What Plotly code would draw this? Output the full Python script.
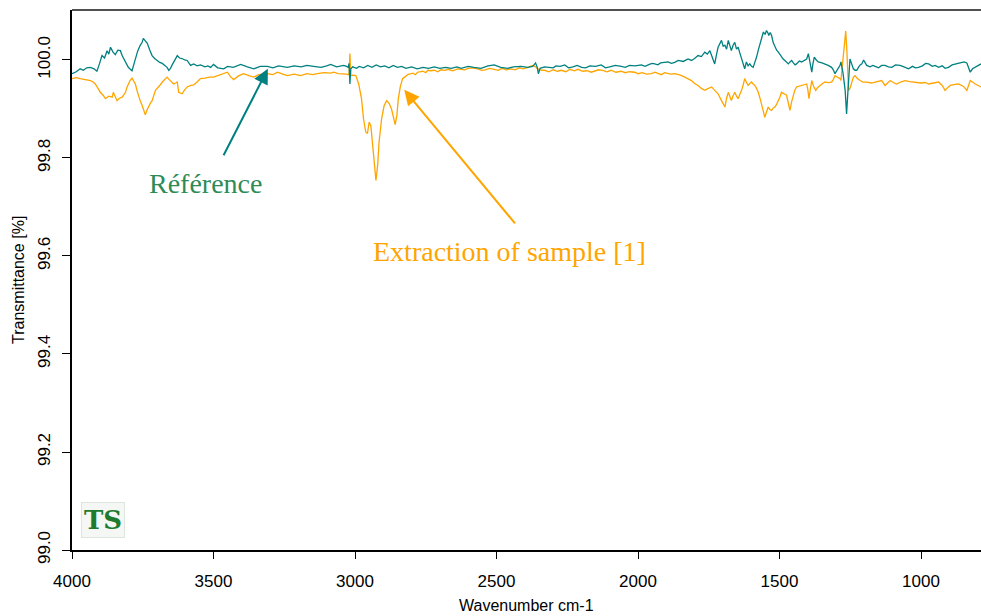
import plotly.graph_objects as go

# Référence spectrum (wavenumber cm-1, transmittance %)
ref_wn = [4000, 3985, 3971, 3960, 3948, 3935, 3922, 3912, 3903, 3894, 3885, 3876, 3870, 3864, 3855, 3847, 3838, 3829, 3822, 3818,
          3808, 3801, 3794, 3788, 3782, 3776, 3768, 3759, 3752, 3748, 3741, 3734, 3725, 3717, 3708, 3699, 3690, 3681, 3672, 3664,
          3658, 3652, 3646, 3641, 3634, 3628, 3620, 3611, 3602, 3593, 3586, 3581, 3570, 3558, 3546, 3530, 3520, 3510, 3500, 3485,
          3464, 3450, 3430, 3404, 3380, 3358, 3335, 3310, 3290, 3270, 3239, 3215, 3190, 3170, 3146, 3120, 3100, 3086, 3065, 3040,
          3030, 3024, 3021, 3018, 3015, 3008, 2995, 2985, 2970, 2955, 2940, 2925, 2910, 2895, 2880, 2865, 2850, 2835, 2820, 2800,
          2780, 2760, 2740, 2720, 2700, 2680, 2660, 2640, 2625, 2600, 2580, 2555, 2530, 2508, 2485, 2460, 2440, 2413, 2390, 2372,
          2362, 2356, 2352, 2346, 2330, 2318, 2290, 2259, 2230, 2199, 2170, 2130, 2100, 2059, 2030, 1988, 1960, 1941, 1920, 1894,
          1870, 1858, 1840, 1823, 1811, 1800, 1788, 1776, 1764, 1755, 1746, 1738, 1729, 1723, 1717, 1705, 1699, 1693, 1687, 1681,
          1675, 1670, 1664, 1658, 1652, 1646, 1640, 1634, 1628, 1623, 1617, 1611, 1605, 1599, 1593, 1587, 1581, 1575, 1569, 1563,
          1557, 1551, 1546, 1540, 1538, 1533, 1528, 1522, 1516, 1510, 1504, 1498, 1493, 1487, 1481, 1475, 1469, 1463, 1457, 1451,
          1445, 1440, 1430, 1422, 1413, 1404, 1398, 1392, 1386, 1382, 1377, 1370, 1363, 1350, 1339, 1328, 1316, 1310, 1304, 1296,
          1286, 1283, 1276, 1268, 1263, 1258, 1251, 1245, 1239, 1233, 1227, 1220, 1215, 1209, 1203, 1197, 1192, 1180, 1170, 1162,
          1150, 1139, 1127, 1115, 1103, 1090, 1074, 1060, 1044, 1030, 1020, 1009, 995, 984, 973, 960, 950, 938, 925, 915,
          903, 890, 874, 860, 848, 838, 826, 818, 808, 798, 788]
ref_t = [99.972, 99.976, 99.982, 99.979, 99.984, 99.985, 99.982, 99.977, 99.992, 100.009, 100.004, 100.019, 100.012, 100.026, 100.016, 100.011, 100.020, 100.019, 100.008, 100.003,
         99.992, 99.985, 99.981, 99.978, 99.990, 100.003, 100.018, 100.030, 100.036, 100.044, 100.040, 100.034, 100.020, 100.009, 100.003, 99.999, 99.995, 99.993, 99.988, 99.985,
         99.979, 99.983, 99.990, 99.996, 100.004, 100.009, 100.004, 100.003, 100.000, 99.999, 99.993, 99.989, 99.992, 99.988, 99.990, 99.986, 99.988, 99.985, 99.991, 99.984,
         99.982, 99.987, 99.985, 99.991, 99.986, 99.982, 99.987, 99.987, 99.984, 99.988, 99.985, 99.988, 99.986, 99.989, 99.987, 99.985, 99.988, 99.991, 99.986, 99.989,
         99.987, 99.985, 99.993, 99.951, 99.982, 99.986, 99.983, 99.987, 99.984, 99.989, 99.985, 99.990, 99.986, 99.988, 99.984, 99.989, 99.985, 99.987, 99.983, 99.986,
         99.982, 99.985, 99.983, 99.986, 99.983, 99.985, 99.983, 99.986, 99.983, 99.987, 99.985, 99.983, 99.988, 99.990, 99.985, 99.983, 99.986, 99.987, 99.985, 99.987,
         99.994, 99.985, 99.972, 99.983, 99.986, 99.985, 99.988, 99.990, 99.986, 99.985, 99.988, 99.990, 99.986, 99.987, 99.989, 99.990, 99.991, 99.992, 99.994, 99.996,
         99.995, 99.999, 99.997, 100.002, 99.999, 100.003, 100.009, 100.007, 100.016, 100.012, 100.019, 100.006, 99.992, 100.010, 100.026, 100.040, 100.028, 100.030, 100.022, 100.040,
         100.028, 100.019, 100.030, 100.036, 100.022, 100.026, 100.014, 100.002, 99.990, 99.982, 99.996, 99.988, 99.992, 99.987, 99.985, 99.995, 100.006, 100.020, 100.033, 100.045,
         100.057, 100.052, 100.060, 100.054, 100.050, 100.056, 100.050, 100.035, 100.026, 100.020, 100.016, 100.010, 100.006, 100.002, 99.999, 99.995, 99.992, 99.996, 99.999, 99.994,
         99.990, 99.992, 99.998, 99.996, 99.999, 100.002, 100.013, 99.990, 99.975, 99.992, 100.006, 100.000, 99.996, 99.994, 99.992, 99.989, 99.985, 99.980, 99.972, 99.980,
         99.989, 99.996, 99.975, 99.938, 99.890, 99.938, 100.002, 99.992, 99.982, 99.979, 99.979, 99.986, 99.990, 99.992, 100.000, 99.994, 99.989, 99.986, 99.989, 99.987,
         99.984, 99.989, 99.989, 99.986, 99.985, 99.990, 99.989, 99.986, 99.982, 99.987, 99.984, 99.985, 99.988, 99.993, 99.992, 99.987, 99.989, 99.985, 99.988, 99.983,
         99.985, 99.990, 99.992, 99.995, 99.996, 99.994, 99.975, 99.982, 99.985, 99.989, 99.992]
# extra detail points of the Référence trace (2300-1880 cm-1)
ref_wn_detail = [2300, 2275, 2245, 2215, 2185, 2150, 2115, 2080, 2045, 2010, 1975, 1950, 1930, 1907, 1882]
ref_t_detail = [99.984, 99.987, 99.984, 99.989, 99.984, 99.987, 99.984, 99.989, 99.985, 99.988, 99.987, 99.993, 99.990, 99.995, 99.993]

# Extraction of sample [1]
ext_wn = [4000, 3985, 3971, 3955, 3935, 3925, 3918, 3908, 3900, 3890, 3882, 3870, 3858, 3854, 3848, 3841, 3832, 3823, 3817, 3811,
          3806, 3801, 3795, 3788, 3782, 3776, 3770, 3764, 3758, 3752, 3746, 3741, 3735, 3729, 3723, 3717, 3711, 3705, 3699, 3693,
          3687, 3681, 3672, 3664, 3658, 3652, 3646, 3641, 3634, 3628, 3623, 3617, 3611, 3602, 3593, 3580, 3570, 3558, 3546, 3530,
          3515, 3500, 3485, 3470, 3451, 3440, 3429, 3410, 3394, 3375, 3358, 3340, 3310, 3290, 3274, 3255, 3239, 3215, 3192, 3170,
          3150, 3133, 3110, 3086, 3075, 3060, 3040, 3030, 3024, 3021, 3018, 3015, 3008, 2997, 2987, 2977, 2970, 2962, 2956, 2950,
          2944, 2938, 2932, 2926, 2920, 2915, 2906, 2897, 2888, 2879, 2871, 2864, 2858, 2852, 2847, 2840, 2832, 2820, 2814, 2795,
          2779, 2760, 2743, 2720, 2696, 2670, 2637, 2625, 2600, 2566, 2540, 2508, 2480, 2448, 2420, 2389, 2372, 2362, 2355, 2342,
          2330, 2300, 2271, 2240, 2212, 2180, 2154, 2125, 2095, 2060, 2030, 2012, 1985, 1953, 1930, 1906, 1885, 1870, 1850, 1835,
          1820, 1811, 1800, 1788, 1776, 1764, 1755, 1740, 1729, 1717, 1705, 1693, 1687, 1681, 1675, 1670, 1664, 1658, 1652, 1646,
          1640, 1634, 1628, 1623, 1617, 1611, 1605, 1599, 1593, 1587, 1581, 1575, 1569, 1563, 1557, 1552, 1546, 1540, 1534, 1528,
          1522, 1516, 1510, 1504, 1498, 1493, 1487, 1481, 1475, 1469, 1463, 1457, 1451, 1446, 1440, 1430, 1422, 1413, 1404, 1400,
          1396, 1391, 1386, 1380, 1372, 1365, 1357, 1348, 1339, 1328, 1316, 1310, 1304, 1295, 1286, 1283, 1276, 1266, 1262, 1256,
          1251, 1245, 1239, 1233, 1225, 1215, 1205, 1192, 1175, 1162, 1150, 1139, 1127, 1118, 1109, 1098, 1086, 1072, 1056, 1040,
          1021, 1000, 985, 973, 955, 938, 925, 915, 905, 897, 880, 867, 850, 838, 826, 815, 808, 798, 788]
ext_t = [99.962, 99.964, 99.962, 99.960, 99.958, 99.955, 99.951, 99.942, 99.934, 99.928, 99.921, 99.926, 99.924, 99.934, 99.925, 99.917, 99.922, 99.924, 99.929, 99.934,
         99.944, 99.951, 99.958, 99.963, 99.958, 99.951, 99.937, 99.924, 99.915, 99.907, 99.896, 99.888, 99.898, 99.907, 99.912, 99.917, 99.928, 99.938, 99.942, 99.945,
         99.950, 99.955, 99.960, 99.965, 99.961, 99.958, 99.953, 99.951, 99.953, 99.955, 99.934, 99.932, 99.931, 99.939, 99.945, 99.948, 99.949, 99.955, 99.962, 99.963,
         99.965, 99.965, 99.968, 99.970, 99.975, 99.966, 99.960, 99.968, 99.972, 99.968, 99.965, 99.970, 99.972, 99.970, 99.975, 99.971, 99.968, 99.971, 99.968, 99.972,
         99.970, 99.972, 99.974, 99.973, 99.975, 99.972, 99.972, 99.971, 99.970, 99.972, 100.013, 99.968, 99.969, 99.968, 99.951, 99.921, 99.880, 99.853, 99.850, 99.873,
         99.866, 99.832, 99.785, 99.754, 99.785, 99.832, 99.880, 99.907, 99.917, 99.911, 99.900, 99.883, 99.868, 99.887, 99.921, 99.945, 99.962, 99.967, 99.970, 99.973,
         99.975, 99.977, 99.979, 99.979, 99.980, 99.981, 99.982, 99.981, 99.983, 99.982, 99.980, 99.981, 99.983, 99.982, 99.984, 99.985, 99.989, 99.986, 99.982, 99.979,
         99.979, 99.980, 99.979, 99.981, 99.981, 99.978, 99.977, 99.979, 99.979, 99.977, 99.976, 99.975, 99.974, 99.972, 99.973, 99.974, 99.971, 99.972, 99.969, 99.965,
         99.960, 99.958, 99.952, 99.948, 99.942, 99.938, 99.941, 99.945, 99.938, 99.931, 99.917, 99.904, 99.922, 99.934, 99.925, 99.917, 99.927, 99.934, 99.926, 99.921,
         99.930, 99.938, 99.950, 99.962, 99.955, 99.948, 99.952, 99.955, 99.951, 99.948, 99.942, 99.934, 99.922, 99.911, 99.895, 99.883, 99.895, 99.904, 99.899, 99.897,
         99.902, 99.904, 99.910, 99.917, 99.925, 99.934, 99.931, 99.930, 99.928, 99.912, 99.897, 99.915, 99.928, 99.938, 99.945, 99.947, 99.948, 99.950, 99.951, 99.940,
         99.921, 99.940, 99.958, 99.947, 99.938, 99.944, 99.948, 99.952, 99.955, 99.954, 99.955, 99.960, 99.968, 99.965, 99.962, 99.958, 99.999, 100.059, 100.019, 99.938,
         99.942, 99.955, 99.965, 99.968, 99.962, 99.958, 99.955, 99.955, 99.953, 99.955, 99.957, 99.958, 99.948, 99.953, 99.958, 99.954, 99.951, 99.955, 99.958, 99.956,
         99.955, 99.953, 99.954, 99.951, 99.953, 99.955, 99.948, 99.938, 99.944, 99.948, 99.950, 99.951, 99.946, 99.938, 99.958, 99.953, 99.951, 99.948, 99.945]
# extra detail points of the Extraction trace (2790-1895 cm-1)
ext_wn_detail = [2787, 2770, 2750, 2732, 2708, 2683, 2655, 2612, 2585, 2552, 2525, 2494, 2465, 2434, 2405,
                 2315, 2285, 2255, 2225, 2195, 2165, 2140, 2110, 2078, 2045, 2000, 1970, 1940, 1918, 1895]
ext_t_detail = [99.970, 99.976, 99.974, 99.978, 99.976, 99.979, 99.978, 99.980, 99.984, 99.979, 99.983, 99.979, 99.980, 99.980, 99.982,
                99.976, 99.977, 99.976, 99.978, 99.977, 99.975, 99.980, 99.976, 99.975, 99.974, 99.972, 99.971, 99.975, 99.970, 99.972]

x_ticks = [4000, 3500, 3000, 2500, 2000, 1500, 1000]
y_ticks = [99.0, 99.2, 99.4, 99.6, 99.8, 100.0]

TEAL = "#008080"
ORANGE = "#FFA500"
SANS = "Liberation Sans, Arial, sans-serif"
SERIF = "Liberation Serif, Times New Roman, serif"


def merged(wn, t, wn_d, t_d):
    pairs = sorted(zip(wn + wn_d, t + t_d), key=lambda p: -p[0])
    return [p[0] for p in pairs], [p[1] for p in pairs]


ref_x, ref_y = merged(ref_wn, ref_t, ref_wn_detail, ref_t_detail)
ext_x, ext_y = merged(ext_wn, ext_t, ext_wn_detail, ext_t_detail)

fig = go.Figure()
fig.add_trace(go.Scatter(x=ext_x, y=ext_y, mode="lines", line=dict(color=ORANGE, width=1.3),
                         name="Extraction of sample [1]", showlegend=False))
fig.add_trace(go.Scatter(x=ref_x, y=ref_y, mode="lines", line=dict(color=TEAL, width=1.3),
                         name="Référence", showlegend=False))

fig.update_layout(
    width=981, height=616,
    margin=dict(l=72, r=0, t=10, b=66),
    paper_bgcolor="white", plot_bgcolor="white",
    font=dict(family=SANS, size=17, color="black"),
    xaxis=dict(range=[4000, 788], tickvals=x_ticks, ticktext=[str(v) for v in x_ticks],
               showgrid=False, zeroline=False, showline=True, linecolor="black", linewidth=1.5,
               ticks="outside", ticklen=7, tickwidth=1, tickcolor="black",
               tickfont=dict(family=SANS, size=17), ticklabelstandoff=8),
    yaxis=dict(range=[99.0, 100.102], tickvals=y_ticks, ticktext=["%.1f" % v for v in y_ticks],
               showgrid=False, zeroline=False, showline=True, linecolor="black", linewidth=1.5,
               ticks="outside", ticklen=8, tickwidth=1, tickcolor="black", tickangle=-90,
               tickfont=dict(family=SANS, size=17), ticklabelstandoff=5),
    shapes=[dict(type="line", xref="paper", yref="paper", x0=0, x1=1, y0=1, y1=1,
                 line=dict(color="#505050", width=2))],
    annotations=[
        dict(text="Wavenumber cm-1", xref="paper", yref="paper", x=0.5, y=-0.102,
             showarrow=False, font=dict(family=SANS, size=16), xanchor="center", yanchor="middle"),
        dict(text="Transmittance [%]", xref="paper", yref="paper", x=-0.0594, y=0.5, textangle=-90,
             showarrow=False, font=dict(family=SANS, size=16), xanchor="center", yanchor="middle"),
        dict(text="Référence", xref="paper", yref="paper", x=0.1474, y=0.678, showarrow=False,
             font=dict(family=SERIF, size=28, color="#2E8B57"), xanchor="center", yanchor="middle"),
        dict(text="Extraction of sample [1]", xref="paper", yref="paper", x=0.4818, y=0.552, showarrow=False,
             font=dict(family=SERIF, size=28, color=ORANGE), xanchor="center", yanchor="middle"),
        dict(text="", x=3308, y=99.982, xref="x", yref="y", ax=-45, ay=88, showarrow=True,
             arrowhead=2, arrowsize=1.5, arrowwidth=2, arrowcolor=TEAL),
        dict(text="", x=2826, y=99.939, xref="x", yref="y", ax=112, ay=135, showarrow=True,
             arrowhead=2, arrowsize=1.5, arrowwidth=2, arrowcolor=ORANGE),
        dict(text="<b>TS</b>", xref="paper", yref="paper", x=(103 - 72) / 909, y=(550 - 520) / 540,
             showarrow=False, font=dict(family="DejaVu Serif, serif", size=26, color="#1E7B2E"),
             xanchor="center", yanchor="middle", bgcolor="#F4F7F4", bordercolor="#DDE6DD", borderwidth=1,
             borderpad=2),
    ],
)

fig.write_html(
    "out.html",
    config={"displayModeBar": False},
    post_script=("document.body.style.margin='0';document.body.style.overflow='hidden';"
                 "document.documentElement.style.overflow='hidden';"),
)
